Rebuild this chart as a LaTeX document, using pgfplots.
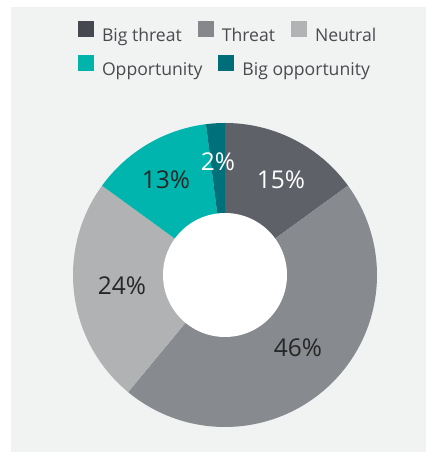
\documentclass[border=0pt]{standalone}
\usepackage{pgfplots}
\pgfplotsset{compat=1.18}
\usepackage{pgfplotstable}
\usepackage{fontspec}
\setmainfont{Open Sans}

\definecolor{panelbg}{HTML}{F1F2F2}
\definecolor{cBT}{HTML}{5F6169}
\definecolor{cT}{HTML}{878A8E}
\definecolor{cN}{HTML}{B0B2B3}
\definecolor{cO}{HTML}{00B5AD}
\definecolor{cBO}{HTML}{00717A}
\definecolor{lBT}{HTML}{46484F}
\definecolor{lT}{HTML}{85878B}
\definecolor{lN}{HTML}{B1B3B4}
\definecolor{lO}{HTML}{00B4AC}
\definecolor{lBO}{HTML}{006E78}
\definecolor{legtext}{HTML}{4A4B4F}
\definecolor{darklab}{HTML}{262626}

\pgfplotstableread{
category pct
BigThreat 15
Threat 46
Neutral 24
Opportunity 13
BigOpportunity 2
}\donutdata

\pgfplotsset{
  legsty/.style={
    legend style={draw=none, fill=none, inner sep=0pt, outer sep=0pt,
      nodes={inner sep=0pt, text=legtext},
      font=\fontsize{17.6}{21}\selectfont,
      /tikz/every odd column/.append style={column sep=8pt},
      /tikz/every even column/.append style={column sep=16pt}},
    legend cell align=left,
    legend image code/.code={\fill[##1, draw=none] (0pt,-2pt) rectangle (16pt,14pt);},
  },
  base/.style={width=426pt, height=452pt, scale only axis,
    xmin=0, xmax=426, ymin=0, ymax=452, hide axis, clip=false},
}

\begin{document}
\pgfplotstablegetelem{0}{pct}\of\donutdata\edef\pA{\pgfplotsretval}%
\pgfplotstablegetelem{1}{pct}\of\donutdata\edef\pB{\pgfplotsretval}%
\pgfplotstablegetelem{2}{pct}\of\donutdata\edef\pC{\pgfplotsretval}%
\pgfplotstablegetelem{3}{pct}\of\donutdata\edef\pD{\pgfplotsretval}%
\pgfplotstablegetelem{4}{pct}\of\donutdata\edef\pE{\pgfplotsretval}%
\pgfmathsetmacro\aA{90}%
\pgfmathsetmacro\aB{\aA-3.6*\pA}%
\pgfmathsetmacro\aC{\aB-3.6*\pB}%
\pgfmathsetmacro\aD{\aC-3.6*\pC}%
\pgfmathsetmacro\aE{\aD-3.6*\pD}%
\pgfmathsetmacro\aF{\aE-3.6*\pE}%
\begin{tikzpicture}
\begin{axis}[base, name=main, legsty,
  legend style={at={(axis cs:78,420)}, anchor=west, legend columns=3}]
  \fill[white] (axis cs:0,0) rectangle (axis cs:426,452);
  \fill[panelbg] (axis cs:11,0) rectangle (axis cs:426,445);
  \addplot[forget plot, fill=cBT, draw=none, domain=\aB:\aA, samples=60, variable=\t]
    ({225+152*cos(t)}, {177+152*sin(t)}) -- (axis cs:225,177) -- cycle;
  \addplot[forget plot, fill=cT, draw=none, domain=\aC:\aB, samples=120, variable=\t]
    ({225+152*cos(t)}, {177+152*sin(t)}) -- (axis cs:225,177) -- cycle;
  \addplot[forget plot, fill=cN, draw=none, domain=\aD:\aC, samples=80, variable=\t]
    ({225+152*cos(t)}, {177+152*sin(t)}) -- (axis cs:225,177) -- cycle;
  \addplot[forget plot, fill=cO, draw=none, domain=\aE:\aD, samples=60, variable=\t]
    ({225+152*cos(t)}, {177+152*sin(t)}) -- (axis cs:225,177) -- cycle;
  \addplot[forget plot, fill=cBO, draw=none, domain=\aF:\aE, samples=20, variable=\t]
    ({225+152*cos(t)}, {177+152*sin(t)}) -- (axis cs:225,177) -- cycle;
  \addplot[forget plot, fill=white, draw=none, domain=0:360, samples=150, variable=\t]
    ({225+62*cos(t)}, {177+62*sin(t)}) -- cycle;
  \node[text=white, font=\fontsize{24.5}{28}\selectfont] at (axis cs:281,272) {15\%};
  \node[text=white, font=\fontsize{24.5}{28}\selectfont] at (axis cs:218,290) {2\%};
  \node[text=darklab, font=\fontsize{24.5}{28}\selectfont] at (axis cs:166,272) {13\%};
  \node[text=darklab, font=\fontsize{24.5}{28}\selectfont] at (axis cs:122,166) {24\%};
  \node[text=darklab, font=\fontsize{24.5}{28}\selectfont] at (axis cs:298,104) {46\%};
  \addlegendimage{fill=lBT}\addlegendentry{Big threat}
  \addlegendimage{fill=lT}\addlegendentry{Threat}
  \addlegendimage{fill=lN}\addlegendentry{Neutral}
\end{axis}
\begin{axis}[base, at={(main.south west)}, anchor=south west, legsty,
  legend style={at={(axis cs:78,386)}, anchor=west, legend columns=2}]
  \addlegendimage{fill=lO}\addlegendentry{Opportunity}
  \addlegendimage{fill=lBO}\addlegendentry{Big opportunity}
\end{axis}
\end{tikzpicture}
\end{document}
